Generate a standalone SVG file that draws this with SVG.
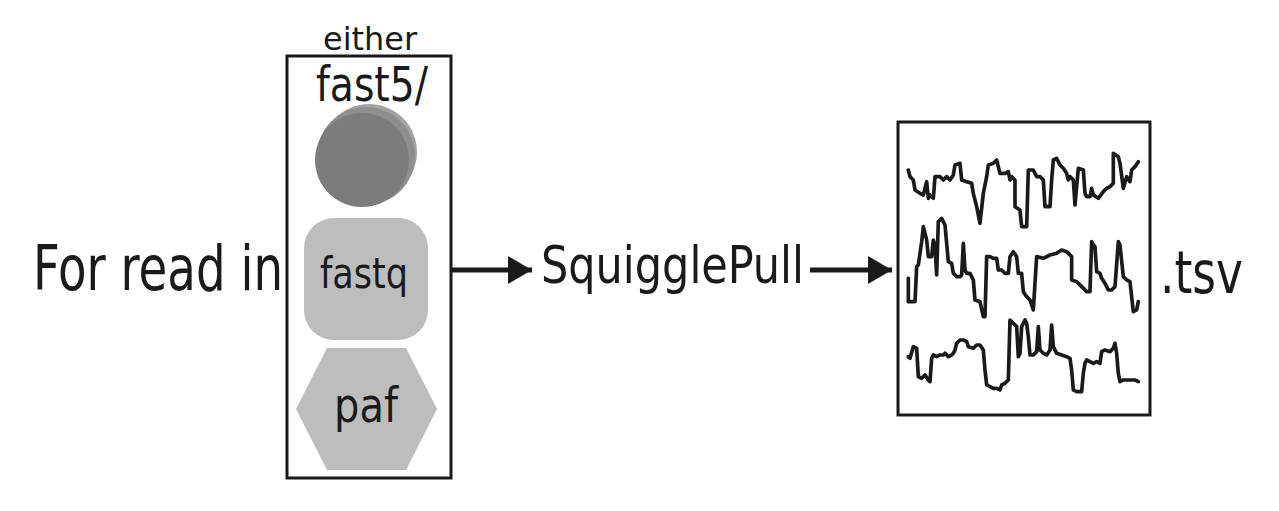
<svg xmlns="http://www.w3.org/2000/svg" width="1279" height="511" viewBox="0 0 1279 511">
<style>
text{font-family:"DejaVu Sans Condensed","DejaVu Sans","Liberation Sans",sans-serif;fill:#1a1a1a;font-stretch:condensed}
.box{fill:none;stroke:#1a1a1a;stroke-width:3}
.shape{fill:#bdbdbd}
.trace{fill:none;stroke:#1a1a1a;stroke-width:11;stroke-linejoin:round;stroke-linecap:round}
.conn{stroke:#1a1a1a;stroke-width:5}
</style>
<defs>
<marker id="ah" markerWidth="24" markerHeight="28" refX="24" refY="14" orient="auto" markerUnits="userSpaceOnUse">
<path d="M0,0 L24,14 L0,28 Z" fill="#1a1a1a"/>
</marker>
</defs>
<rect width="1279" height="511" fill="#fff"/>
<g id="label-input"><text transform="translate(33,290) scale(1,1.21)" font-size="51" textLength="250" lengthAdjust="spacingAndGlyphs">For read in</text></g>
<g id="input-box">
<rect class="box" x="287" y="56" width="164" height="422"/>
<text transform="translate(323,50) scale(1,0.93)" font-size="35" textLength="94" lengthAdjust="spacingAndGlyphs">either</text>
</g>
<g id="fast5">
<text transform="translate(316,101) scale(1,1.12)" font-size="43.6" textLength="112" lengthAdjust="spacingAndGlyphs">fast5/</text>
<circle cx="369" cy="152" r="48" fill="#a3a3a3"/>
<circle cx="366" cy="156" r="49" fill="#8e8e8e"/>
<circle cx="362" cy="160" r="47" fill="#7c7c7c"/>
</g>
<g id="fastq">
<rect class="shape" x="304" y="218" width="124" height="122" rx="30"/>
<text transform="translate(320,288) scale(1,1.11)" font-size="39" textLength="88" lengthAdjust="spacingAndGlyphs">fastq</text>
</g>
<g id="paf">
<polygon class="shape" points="296,409 327,348 406,348 437,409 406,470 327,470"/>
<text transform="translate(334,422) scale(1,1.1)" font-size="44.4" textLength="64" lengthAdjust="spacingAndGlyphs">paf</text>
</g>
<g id="squigglepull"><text transform="translate(541,283) scale(1,1.1)" font-size="47.6" textLength="263" lengthAdjust="spacingAndGlyphs">SquigglePull</text></g>
<g id="signals">
<rect class="box" x="898" y="122" width="252" height="293" stroke-width="2.5"/>
<g transform="translate(890,110) scale(0.3333)">
<polyline class="trace" points="55,180 60,200 70,210 75,240 90,250 100,255 110,215 115,265 120,255 130,265 135,200 150,200 160,210 170,200 180,210 190,195 195,165 210,160 215,210 230,215 245,220 250,250 260,290 270,340 280,250 290,200 295,165 310,160 320,150 330,190 345,190 355,185 360,210 365,200 375,210 375,290 390,300 395,350 410,350 415,180 430,180 440,200 450,200 460,210 465,290 480,290 485,210 490,150 500,145 510,165 520,175 530,190 535,210 540,200 550,210 555,285 560,230 565,175 580,180 585,250 590,260 600,260 605,235 610,255 625,265 640,245 650,235 660,230 670,220 670,130 685,140 690,160 700,235 710,200 720,215 725,180 735,170 745,155"/>
<polyline class="trace" points="55,505 55,575 75,575 80,470 85,465 95,395 100,350 110,390 115,440 125,440 130,390 135,410 140,495 145,335 155,325 165,345 170,400 175,455 185,460 190,490 200,500 210,500 215,495 220,400 225,480 230,490 240,490 250,510 255,570 270,575 280,620 285,620 290,440 300,440 310,445 320,445 325,480 335,480 345,490 355,490 360,440 370,425 380,440 385,490 395,490 400,545 410,560 420,570 430,600 440,440 460,445 480,435 500,430 515,420 530,425 545,440 545,510 560,515 575,530 590,545 600,545 605,395 615,410 620,485 630,490 635,505 645,520 655,540 665,540 675,530 685,395 690,405 700,500 710,510 720,515 730,605 740,600 745,575"/>
<polyline class="trace" points="55,740 60,745 70,710 80,715 85,800 95,805 105,795 115,810 120,815 125,745 130,735 140,740 150,735 160,735 165,730 175,740 185,735 190,730 195,720 200,700 210,690 220,690 230,695 235,710 250,715 260,705 270,705 280,720 285,780 290,825 300,830 310,835 320,835 330,840 335,825 345,820 355,810 360,630 370,640 380,650 385,740 390,730 395,650 405,630 410,640 415,680 420,735 430,735 440,725 445,650 450,720 460,730 470,735 480,720 485,645 490,710 500,730 515,735 530,740 540,745 545,780 550,840 560,845 575,845 580,790 585,760 590,750 600,755 610,760 620,755 630,760 635,725 645,720 660,725 670,715 675,700 680,730 685,790 690,815 700,810 720,810 735,810 745,815"/>
</g>
</g>
<g id="label-output"><text transform="translate(1160,293) scale(1,1.15)" font-size="50.6" textLength="83" lengthAdjust="spacingAndGlyphs">.tsv</text></g>
<g id="connectors">
<line class="conn" x1="451" y1="270" x2="532" y2="270" marker-end="url(#ah)"/>
<line class="conn" x1="810" y1="270" x2="892" y2="270" marker-end="url(#ah)"/>
</g>
</svg>
